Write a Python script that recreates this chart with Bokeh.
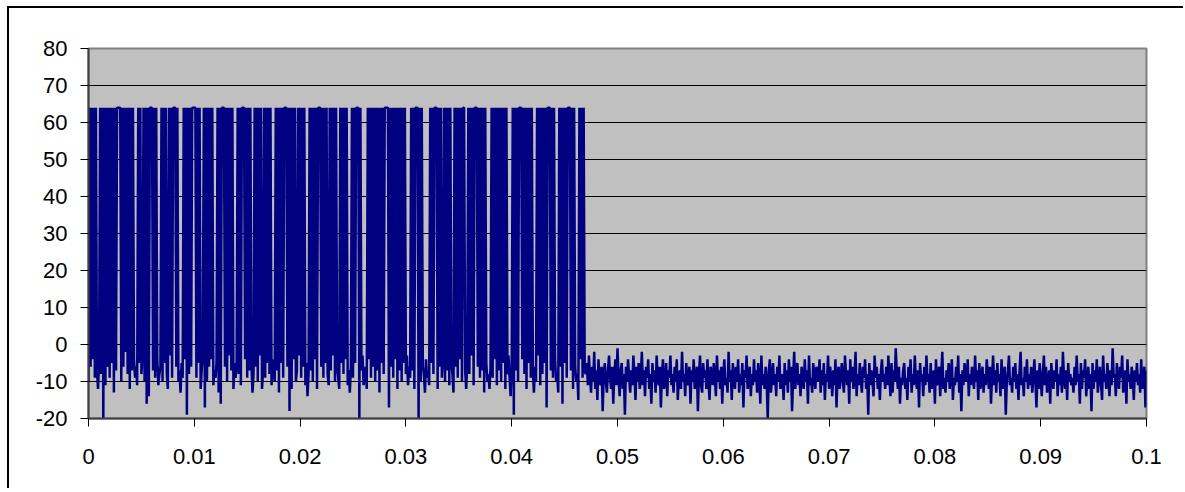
from bokeh.plotting import figure
from bokeh.models import ColumnDataSource, FixedTicker, NumeralTickFormatter, Range1d
from bokeh.embed import file_html
from bokeh.resources import INLINE

# sample spacing of the recorded signal (s)
DT = 0.0001

# first part (0 .. 0.047 s): saturated pulses at 64 over a noisy floor
PULSE = [
    -10, 64, -6, 64, -4, 64, -9, 64, -7, -12,
    -5, 64, -8, 64, -20, 64, -11, 64, -6, 64,
    -9, 64, -5, 64, -13, 64, -7, 64, 64, 64,
    64, -10, 64, -6, 64, -2, 64, -8, 64, -12,
    64, -7, 64, -4, -9, -6, -11, 64, -5, 64,
    -8, -3, 64, -10, 64, -16, 64, -14, 64, 64,
    64, -7, 64, -9, 64, -4, -11, -8, -6, 64,
    -10, 64, -5, 64, -8, -12, 64, -3, 64, -9,
    64, 64, 64, -6, 64, -10, -7, -13, -5, -9,
    64, -4, 64, -19, 64, -8, 64, -6, 64, 64,
    64, 64, -9, 64, -5, 64, -12, -7, -3, 64,
    -17, 64, -10, 64, -6, 64, -4, 64, -11, -7,
    -9, -5, 64, -13, 64, -16, 64, 64, 64, -6,
    64, -10, 64, -3, 64, -7, 64, -12, -5, -9,
    -6, 64, -8, 64, -11, 64, 64, 64, -4, 64,
    -9, 64, -7, 64, -5, -13, -8, 64, -6, 64,
    -10, 64, -3, 64, -12, -7, 64, -9, 64, -5,
    64, -8, 64, -11, -6, -4, -10, 64, -7, 64,
    -13, 64, -5, 64, -9, 64, 64, 64, -6, 64,
    -18, 64, -12, 64, -4, 64, -10, -7, 64, -3,
    64, -9, 64, -6, 64, -11, -5, -14, -8, 64,
    -7, 64, -10, 64, -4, 64, -12, 64, 64, 64,
    -6, 64, -9, 64, -5, 64, -8, -11, 64, -7,
    64, -3, 64, -10, 64, -6, -9, -12, 64, -5,
    64, -8, 64, -4, 64, -11, -7, -13, -6, 64,
    -9, 64, -5, 64, 64, 64, -20, 64, -7, -3,
    -11, -8, -6, -12, 64, -4, 64, -9, 64, -6,
    64, -10, 64, -7, 64, -13, 64, -5, 64, -8,
    64, 64, 64, 64, -17, 64, -6, 64, -9, 64,
    -4, 64, -12, 64, -7, 64, -10, 64, -5, 64,
    -8, -3, -11, -6, -9, 64, -7, 64, -12, 64,
    64, 64, -20, 64, -10, 64, -6, -8, -13, -4,
    -9, -7, -11, 64, -5, 64, -8, 64, 64, 64,
    -12, 64, -6, 64, -9, -4, 64, -10, 64, -7,
    64, -11, 64, -5, -8, -13, 64, -6, 64, -9,
    64, -4, 64, -10, 64, 64, -7, -12, -5, 64,
    -8, 64, -3, 64, -11, 64, 64, 64, -6, 64,
    -9, 64, -7, 64, -13, 64, -5, -10, -8, -12,
    -6, 64, -9, 64, -4, 64, -11, 64, -7, 64,
    -10, 64, -5, 64, -12, 64, -8, -3, -9, -14,
    -6, 64, -19, 64, -7, 64, -10, 64, 64, 64,
    -4, 64, -8, 64, -12, 64, -5, 64, -9, 64,
    -7, -13, -6, -10, 64, -3, 64, -11, 64, -8,
    64, -5, 64, -17, 64, 64, 64, -7, 64, -9,
    64, -4, -10, -8, -13, 64, -6, 64, -16, 64,
    -5, 64, -9, 64, 64, 64, -7, 64, -12, 64,
    -6, -10, -8, -15, 64, -4, 64, -9, 64, -7,
]

# second part (0.047 .. 0.1 s): noise floor only
NOISE = [
    -8, -5, -11, -3, -9, -13, -6, -10, -2, -12, -7, -15, -4, -9, -11, -6, -18, -8, -5, -10,
    -13, -7, -3, -9, -12, -6, -16, -8, -4, -11, -1, -9, -14, -7, -5, -12, -8, -19, -6, -10,
    -4, -9, -13, -7, -11, -3, -8, -15, -6, -10, -5, -12, -9, -2, -11, -7, -14, -6, -9, -4,
    -12, -8, -16, -5, -10, -7, -13, -3, -9, -11, -6, -17, -8, -4, -12, -10, -5, -14, -7, -9,
    -3, -11, -8, -13, -6, -10, -4, -15, -9, -7, -12, -2, -10, -8, -14, -5, -11, -9, -6, -16,
    -7, -10, -4, -12, -9, -6, -18, -8, -3, -11, -13, -5, -9, -7, -12, -4, -10, -15, -6, -8,
    -11, -5, -9, -14, -3, -10, -7, -12, -6, -16, -8, -4, -11, -9, -13, -2, -10, -7, -15, -5,
    -9, -12, -6, -10, -4, -13, -8, -11, -5, -17, -7, -9, -3, -12, -10, -6, -14, -8, -11, -4,
    -10, -7, -13, -5, -9, -16, -3, -11, -8, -12, -6, -10, -20, -7, -4, -13, -9, -5, -11, -8,
    -14, -6, -10, -3, -12, -8, -9, -15, -5, -11, -7, -13, -4, -10, -6, -18, -9, -2, -12, -7,
    -5, -11, -8, -14, -6, -9, -12, -4, -10, -7, -16, -3, -11, -9, -13, -5, -8, -12, -6, -10,
    -9, -4, -13, -7, -11, -5, -15, -8, -10, -3, -12, -6, -9, -14, -7, -11, -4, -17, -8, -6,
    -12, -9, -5, -10, -13, -3, -8, -11, -7, -16, -4, -10, -6, -12, -9, -2, -14, -8, -11, -5,
    -10, -13, -6, -9, -4, -12, -8, -19, -5, -11, -7, -10, -14, -3, -9, -6, -12, -8, -15, -7,
    -4, -10, -8, -12, -6, -11, -3, -9, -14, -5, -13, -7, -10, -1, -8, -12, -6, -16, -9, -11,
    -7, -5, -12, -9, -15, -6, -10, -4, -13, -8, -11, -3, -9, -12, -7, -17, -5, -10, -8, -14,
    -6, -11, -3, -10, -8, -13, -5, -12, -9, -7, -16, -4, -11, -10, -6, -14, -8, -2, -12, -9,
    -13, -7, -10, -5, -12, -8, -4, -15, -9, -11, -6, -10, -3, -13, -8, -18, -7, -11, -5, -9,
    -10, -4, -14, -8, -11, -6, -9, -12, -3, -10, -7, -15, -5, -12, -9, -6, -13, -8, -11, -4,
    -8, -12, -6, -16, -9, -3, -11, -7, -13, -5, -10, -8, -14, -4, -12, -9, -6, -19, -10, -7,
    -3, -11, -9, -13, -6, -10, -5, -12, -8, -15, -7, -2, -11, -9, -14, -6, -10, -4, -12, -8,
    -11, -6, -13, -9, -4, -10, -17, -7, -12, -5, -9, -14, -8, -3, -11, -6, -13, -10, -7, -16,
    -5, -9, -12, -7, -10, -4, -14, -8, -11, -6, -13, -2, -9, -12, -7, -15, -5, -10, -8, -11,
    -9, -13, -6, -11, -3, -10, -8, -16, -5, -12, -7, -9, -4, -14, -10, -6, -12, -8, -18, -5,
    -12, -7, -10, -4, -13, -9, -6, -11, -15, -3, -10, -8, -12, -5, -9, -14, -7, -11, -1, -9,
    -8, -14, -5, -10, -12, -6, -9, -3, -13, -11, -7, -16, -4, -10, -8, -12, -6, -9, -15, -7,
    -10, -5, -11, -8, -13, -4, -12, -9, -6, -17, -7,
]

X_TICKS = [0, 0.01, 0.02, 0.03, 0.04, 0.05, 0.06, 0.07, 0.08, 0.09, 0.1]
Y_TICKS = [-20, -10, 0, 10, 20, 30, 40, 50, 60, 70, 80]
GRID_LEVELS = [-10, 0, 10, 20, 30, 40, 50, 60, 70]

values = PULSE + NOISE
times = [i * DT for i in range(len(values))]
src = ColumnDataSource(data=dict(t=times, v=values))

p = figure(
    width=1176, height=482,
    x_range=Range1d(0, 0.1), y_range=Range1d(-20, 80),
    output_backend="svg", toolbar_location=None,
    min_border_left=79, min_border_right=39,
    min_border_top=40, min_border_bottom=72,
    background_fill_color="#C0C0C0", border_fill_color="white",
)
p.styles = {
    "margin-left": "7px", "margin-top": "6px",
    "border-left": "2px solid black", "border-top": "2px solid black",
}

p.line("t", "v", source=src, line_color="#000080", line_width=2.5)

p.outline_line_color = "#808080"
p.outline_line_width = 2

p.xgrid.visible = False
p.ygrid.ticker = FixedTicker(ticks=GRID_LEVELS)
p.ygrid.grid_line_color = "black"
p.ygrid.grid_line_width = 1

p.xaxis.ticker = FixedTicker(ticks=X_TICKS)
p.xaxis.formatter = NumeralTickFormatter(format="0.[00]")
p.yaxis.ticker = FixedTicker(ticks=Y_TICKS)
p.yaxis.formatter = NumeralTickFormatter(format="0")

for ax in (p.xaxis, p.yaxis):
    ax.axis_line_color = "#404040"
    ax.axis_line_width = 2
    ax.major_tick_line_color = "black"
    ax.major_tick_line_width = 1
    ax.major_tick_in = 0
    ax.major_tick_out = 8
    ax.minor_tick_line_color = None
    ax.major_label_text_font = "Liberation Sans"
    ax.major_label_text_font_size = "22px"
    ax.major_label_text_color = "black"

p.yaxis.major_label_standoff = 13
p.xaxis.major_label_standoff = 22

open("out.html", "w").write(file_html(p, INLINE))
